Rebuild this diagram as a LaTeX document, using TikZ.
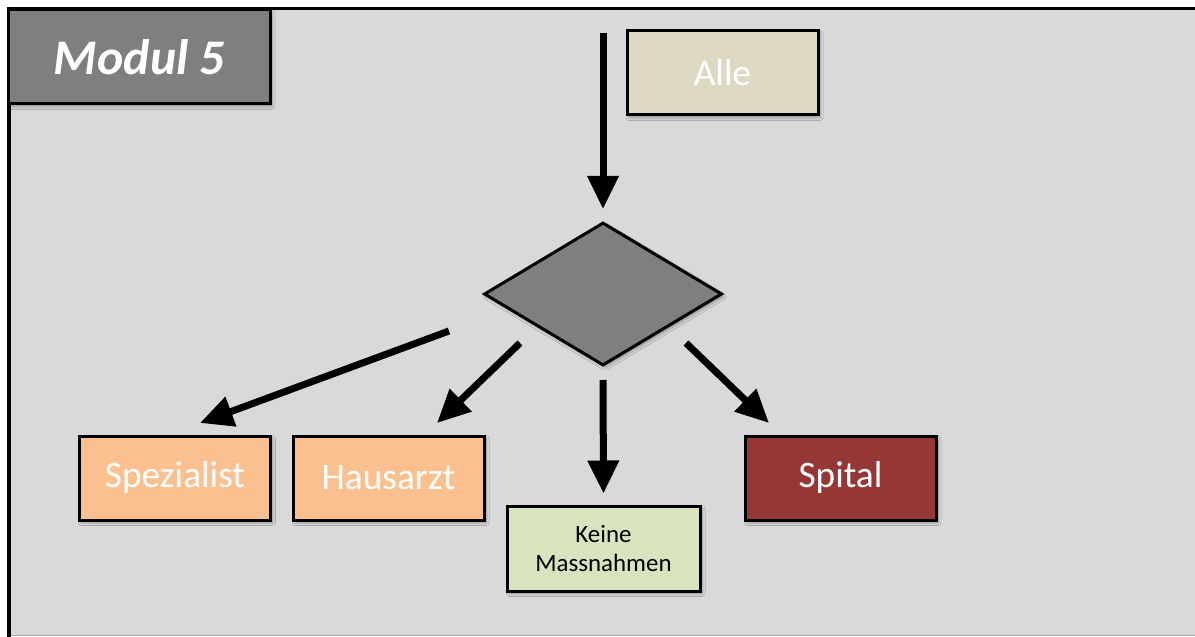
\documentclass[tikz,border=0pt]{standalone}
\usepackage{fontspec}
\setmainfont{Carlito}
\usetikzlibrary{arrows.meta,shapes.geometric,shadows.blur,calc}

\definecolor{panel}{HTML}{D9D9D9}
\definecolor{titlegray}{HTML}{7F7F7F}
\definecolor{sand}{HTML}{DDD9C3}
\definecolor{peach}{HTML}{FAC090}
\definecolor{mint}{HTML}{D7E4BD}
\definecolor{brick}{HTML}{953735}

\tikzset{
  softshadow/.style={blur shadow={shadow xshift=2bp, shadow yshift=-2.5bp,
      shadow blur radius=3bp, shadow opacity=35}},
  box/.style={draw=black, line width=3bp, inner sep=0pt,
      minimum width=191bp, minimum height=84bp, text=white,
      font=\fontsize{37.5}{42}\selectfont, softshadow},
  flow/.style={line width=7bp, -{Triangle[width=30bp,length=33bp]}},
}

\begin{document}
\begin{tikzpicture}[x=1bp, y=-1bp]
  \useasboundingbox (0,0) rectangle (1195,637);

  % panel with its frame (open to the right)
  \fill[panel] (9,8.5) rectangle (1195,636);
  \draw[black!35, line width=1bp] (9,635.5) -- (1195,635.5);
  \draw[line width=3.5bp] (9,637) -- (9,8.5) -- (1195,8.5);

  % module title
  \node[draw=black, line width=3bp, fill=titlegray, inner sep=0pt,
        minimum width=261bp, minimum height=94bp, text=white,
        font=\fontsize{50}{54}\selectfont\bfseries\itshape, softshadow]
        (title) at (139.5,57) {Modul 5};

  % flow nodes
  \node[box, fill=sand] (alle) at (722.5,73) {Alle};
  \node[diamond, draw=black, line width=3bp, fill=titlegray, inner sep=0pt,
        minimum width=238bp, minimum height=143bp, softshadow]
        (dec) at (603,294) {};
  \node[box, fill=peach] (spez) at (175,478) {Spezialist};
  \node[box, fill=peach] (haus) at (388.5,478) {Hausarzt};
  \node[box, fill=mint, text=black, minimum width=193bp, minimum height=85bp,
        align=center, font=\fontsize{25}{30}\selectfont]
        (keine) at (603.5,548.5) {Keine\\Massnahmen};
  \node[box, fill=brick] (spital) at (840.5,478) {Spital};

  % connector end points
  \coordinate (in)  at (603,33);
  \coordinate (o1)  at (449,331);
  \coordinate (t1)  at (200,423);
  \coordinate (o2)  at (520,343);
  \coordinate (t2)  at (437,423);
  \coordinate (o4)  at (686,343);
  \coordinate (t4)  at (769,423);

  % connectors
  \draw[flow, shorten >=12bp] (in) -- (dec.north);
  \draw[flow] (o1) -- (t1);
  \draw[flow] (o2) -- (t2);
  \draw[flow, shorten <=13bp, shorten >=11bp] (dec.south) -- (keine.north);
  \draw[flow] (o4) -- (t4);
\end{tikzpicture}
\end{document}
